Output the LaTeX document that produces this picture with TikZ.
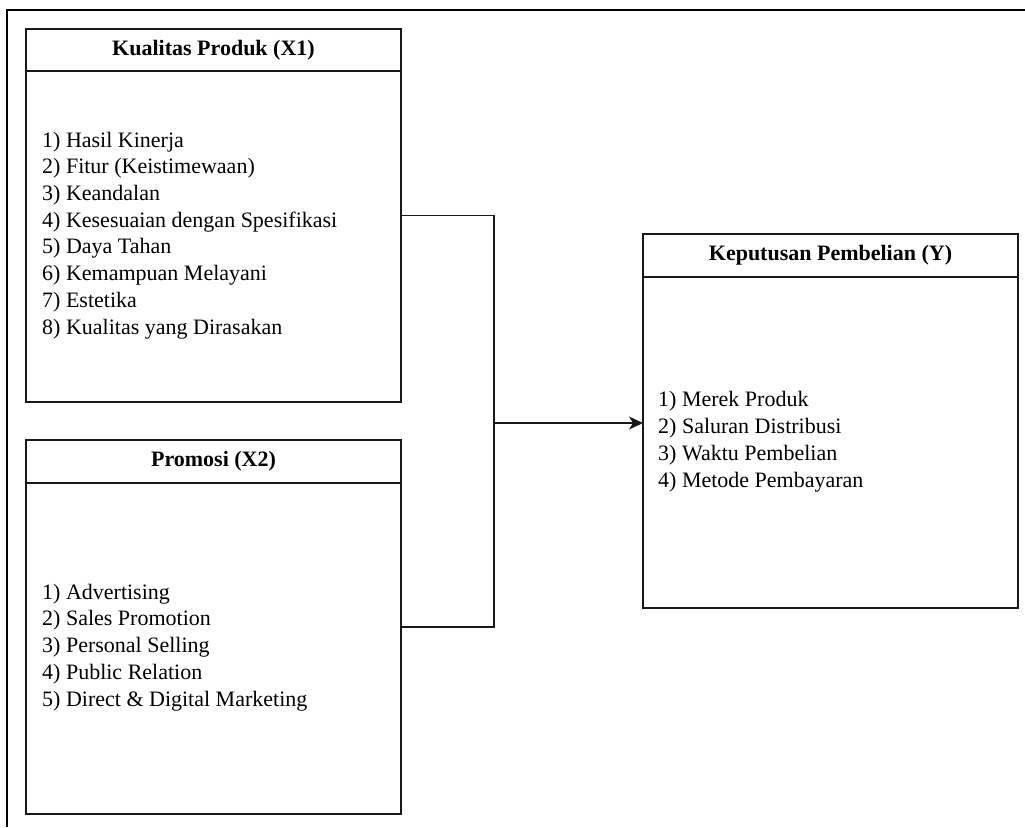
\documentclass[tikz,border=0pt]{standalone}
\usepackage{fontspec}
\setmainfont{Liberation Serif}
\usetikzlibrary{arrows.meta,calc}
\begin{document}
\begin{tikzpicture}[x=1pt,y=-1pt,
  frame/.style={draw=black, line width=1.5pt},
  box/.style={draw=black!90, line width=1.3pt, rectangle, inner sep=0pt, outer sep=0pt, minimum width=375pt, anchor=north west},
  sep/.style={draw=black!90, line width=1.3pt},
  title/.style={inner sep=0pt, font=\fontsize{22}{26.7}\selectfont\bfseries},
  items/.style={inner sep=0pt, align=left, anchor=base west, font=\fontsize{22}{26.7}\selectfont},
  conn/.style={draw=black!90, line width=1.3pt}]
\useasboundingbox (0,0) rectangle (1025,827);
\draw[frame] (7,827) -- (7,10) -- (1025,10);

% Kualitas Produk
\node[box, minimum height=373pt] (b1) at (26,29) {};
\draw[sep] ($(b1.north west)+(0,42)$) -- ($(b1.north east)+(0,42)$);
\node[title] (t1) at ($(b1.north)+(0,21)$) {Kualitas Produk (X1)};
\node[items] (l1) at (42,334) {1) Hasil Kinerja\\2) Fitur (Keistimewaan)\\3) Keandalan\\4) Kesesuaian dengan Spesifikasi\\5) Daya Tahan\\6) Kemampuan Melayani\\7) Estetika\\8) Kualitas yang Dirasakan};

% Promosi
\node[box, minimum height=374pt] (b2) at (26,440) {};
\draw[sep] ($(b2.north west)+(0,43)$) -- ($(b2.north east)+(0,43)$);
\node[title] (t2) at ($(b2.north)+(0,21.5)$) {Promosi (X2)};
\node[items] (l2) at (42,706) {1) Advertising\\2) Sales Promotion\\3) Personal Selling\\4) Public Relation\\5) Direct \& Digital Marketing};

% Keputusan Pembelian
\node[box, minimum height=374pt] (by) at (643,234) {};
\draw[sep] ($(by.north west)+(0,43)$) -- ($(by.north east)+(0,43)$);
\node[title] (ty) at ($(by.north)+(0,21.5)$) {Keputusan Pembelian (Y)};
\node[items] (ly) at (658,487) {1) Merek Produk\\2) Saluran Distribusi\\3) Waktu Pembelian\\4) Metode Pembayaran};

% connectors
\coordinate (j) at (494,423);
\draw[conn] (b1.east) -| (j);
\draw[conn] (b2.east) -| (j);
\draw[conn, -{Stealth[length=14pt,width=13pt,inset=4pt]}] (j) -- (j -| by.west);
\end{tikzpicture}
\end{document}
